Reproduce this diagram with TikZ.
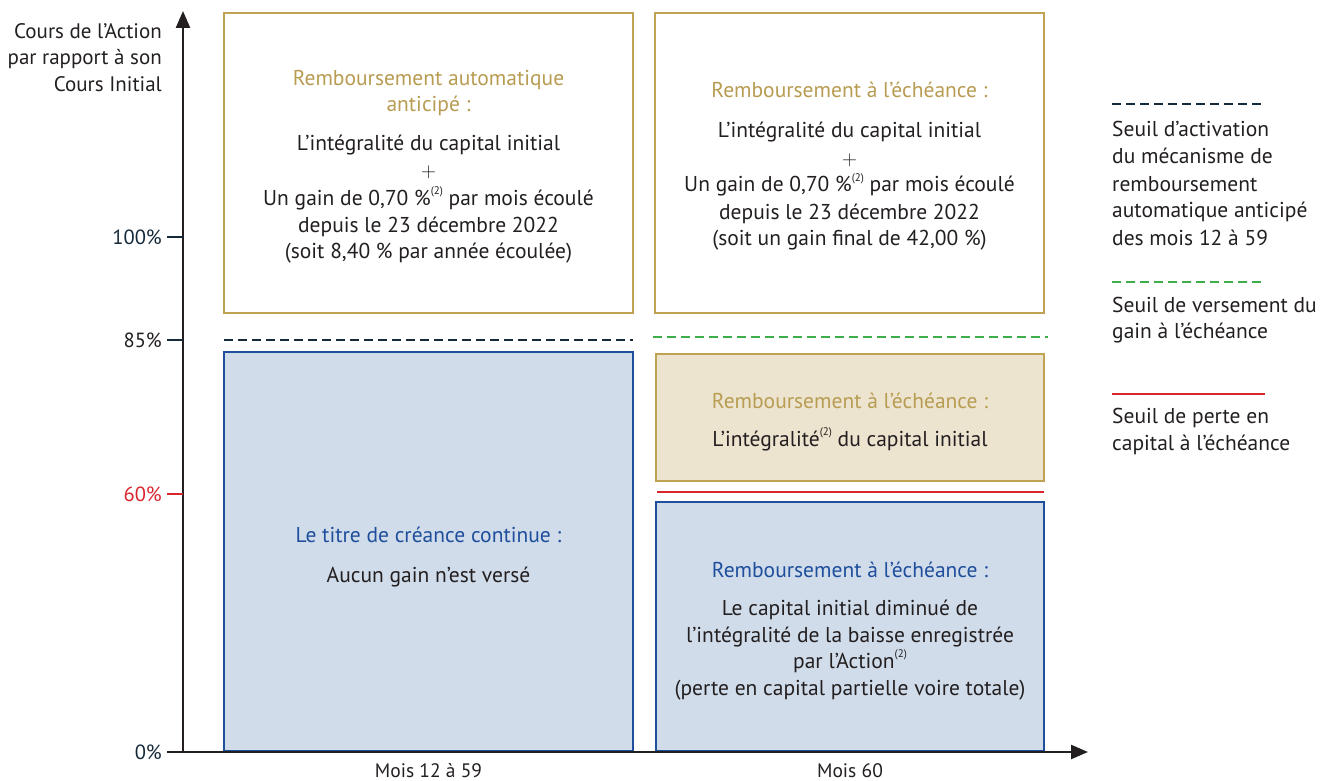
\documentclass[tikz,border=0pt]{standalone}
\usepackage{fontspec}
\setmainfont{PT Sans}
\usetikzlibrary{arrows.meta}
\definecolor{gold}{HTML}{BFA254}
\definecolor{goldtxt}{HTML}{B89C52}
\definecolor{bluebd}{HTML}{1E4E9C}
\definecolor{bluefill}{HTML}{D0DCEA}
\definecolor{beigefill}{HTML}{ECE4CF}
\definecolor{axiscol}{HTML}{231F20}
\definecolor{navy}{HTML}{14293A}
\definecolor{redl}{HTML}{D9262E}
\definecolor{greenl}{HTML}{3DAE4A}
\definecolor{txt}{HTML}{231F20}
\newcommand\supdeux{\raisebox{0.5em}{\fontsize{11}{11}\selectfont(2)}}
\begin{document}
\begin{tikzpicture}[x=1pt,y=-1pt,
  goldbox/.style={draw=gold,line width=2.5pt,fill=white,inner sep=0,rectangle},
  bluebox/.style={draw=bluebd,line width=2.5pt,fill=bluefill,inner sep=0,rectangle},
  beigebox/.style={draw=gold,line width=2.5pt,fill=beigefill,inner sep=0,rectangle},
  ln/.style={anchor=base,inner sep=0,font=\fontsize{21.5}{24}\selectfont,text=txt},
  plusln/.style={anchor=base,inner sep=0,font=\fontsize{20}{20}\selectfont,text=txt,text height=12pt,text depth=0pt},
  gttl/.style={ln,text=goldtxt},
  bttl/.style={ln,text=bluebd},
  lbl/.style={anchor=base east,inner sep=0,font=\fontsize{21}{24}\selectfont,text=txt},
  tlbl/.style={anchor=base east,inner sep=0,font=\fontsize{20.5}{24}\selectfont},
  leg/.style={anchor=base west,inner sep=0,font=\fontsize{21.5}{24}\selectfont,text=txt},
  xl/.style={anchor=base,inner sep=0,font=\fontsize{19.5}{22}\selectfont,text=txt},
  axisline/.style={draw=axiscol,line width=2.5pt,-{Triangle[length=17pt,width=14pt]}},
  tick/.style={line width=2.5pt},
  blackdash/.style={draw=navy,line width=2pt,dash pattern=on 9pt off 5pt},
  greendash/.style={draw=greenl,line width=2pt,dash pattern=on 9pt off 5pt},
  redline/.style={draw=redl,line width=2.2pt}]
\useasboundingbox (0,0) rectangle (1323,781);

% boxes
\node[goldbox,minimum width=409,minimum height=300] (tl) at (428.5,163) {};
\node[goldbox,minimum width=389,minimum height=300] (tr) at (849.5,163) {};
\node[bluebox,minimum width=409,minimum height=399] (lb) at (428.5,551.5) {};
\node[beigebox,minimum width=388,minimum height=127] (bg) at (850,417.5) {};
\node[bluebox,minimum width=388,minimum height=249] (br) at (850,626.5) {};

% axes
\coordinate (xstart) at (167,752);
\coordinate (xend) at (1088,752);
\coordinate (o) at (183,753);
\coordinate (ytop) at (183,11);
\draw[axisline] (xstart) -- (xend);
\draw[axisline] (o) -- (ytop);

% ticks
\coordinate (t100a) at (167,237); \coordinate (t100b) at (183,237);
\coordinate (t85a) at (167,340);  \coordinate (t85b) at (183,340);
\coordinate (t60a) at (167,494);  \coordinate (t60b) at (183,494);
\draw[tick,draw=navy] (t100a) -- (t100b);
\draw[tick,draw=navy] (t85a) -- (t85b);
\draw[tick,draw=redl] (t60a) -- (t60b);

\node[tlbl,text=navy] (l100) at (162,244) {100\%};
\node[tlbl,text=txt] (l85) at (162,347) {85\%};
\node[tlbl,text=redl] (l60) at (162,501) {60\%};
\node[tlbl,text=navy] (l0) at (162,759) {0\%};

\node[lbl] (yl1) at (162,39) {Cours de l’Action};
\node[lbl] (yl2) at (162,65) {par rapport à son};
\node[lbl] (yl3) at (162,92) {Cours Initial};

% thresholds
\coordinate (bd1) at (224,340); \coordinate (bd2) at (633,340);
\coordinate (gd1) at (653,337); \coordinate (gd2) at (1048,337);
\coordinate (rd1) at (657,492); \coordinate (rd2) at (1044,492);
\draw[blackdash] (bd1) -- (bd2);
\draw[greendash] (gd1) -- (gd2);
\draw[redline] (rd1) -- (rd2);

% top-left text
\node[gttl] (tl1) at (428.5,86) {Remboursement automatique};
\node[gttl] (tl2) at (428.5,112) {anticipé :};
\node[ln] (tl3) at (428.5,150) {L’intégralité du capital initial};
\node[plusln] (tl4) at (428.5,178) {$+$};
\node[ln] (tl5) at (428.5,205) {Un gain de 0,70 \%\supdeux{} par mois écoulé};
\node[ln] (tl6) at (428.5,232) {depuis le 23 décembre 2022};
\node[ln] (tl7) at (428.5,258) {(soit 8,40 \% par année écoulée)};

% top-right text
\node[gttl] (tr1) at (849.5,98) {Remboursement à l’échéance :};
\node[ln] (tr2) at (849.5,138) {L’intégralité du capital initial};
\node[plusln] (tr3) at (849.5,165) {$+$};
\node[ln] (tr4) at (849.5,192) {Un gain de 0,70 \%\supdeux{} par mois écoulé};
\node[ln] (tr5) at (849.5,219) {depuis le 23 décembre 2022};
\node[ln] (tr6) at (849.5,245) {(soit un gain final de 42,00 \%)};

% left blue text
\node[bttl] (lb1) at (428.5,542) {Le titre de créance continue :};
\node[ln] (lb2) at (428.5,582) {Aucun gain n’est versé};

% beige text
\node[gttl] (bg1) at (850,408) {Remboursement à l’échéance :};
\node[ln] (bg2) at (850,446) {L’intégralité\supdeux{} du capital initial};

% bottom-right text
\node[bttl] (br1) at (850,577) {Remboursement à l’échéance :};
\node[ln] (br2) at (850,615) {Le capital initial diminué de};
\node[ln] (br3) at (850,642) {l’intégralité de la baisse enregistrée};
\node[ln] (br4) at (850,668) {par l’Action\supdeux};
\node[ln] (br5) at (850,695) {(perte en capital partielle voire totale)};

% x labels
\node[xl] (m1) at (428.5,777) {Mois 12 à 59};
\node[xl] (m2) at (850,777) {Mois 60};

% legend
\coordinate (lk1a) at (1112,104); \coordinate (lk1b) at (1265,104);
\coordinate (lk2a) at (1112,282); \coordinate (lk2b) at (1265,282);
\coordinate (lk3a) at (1112,394); \coordinate (lk3b) at (1265,394);
\draw[blackdash] (lk1a) -- (lk1b);
\draw[greendash] (lk2a) -- (lk2b);
\draw[redline] (lk3a) -- (lk3b);
\node[leg] (lg1) at (1112,137) {Seuil d’activation};
\node[leg] (lg2) at (1112,164) {du mécanisme de};
\node[leg] (lg3) at (1112,191) {remboursement};
\node[leg] (lg4) at (1112,218) {automatique anticipé};
\node[leg] (lg5) at (1112,245) {des mois 12 à 59};
\node[leg] (lg6) at (1112,312) {Seuil de versement du};
\node[leg] (lg7) at (1112,338) {gain à l’échéance};
\node[leg] (lg8) at (1112,423) {Seuil de perte en};
\node[leg] (lg9) at (1112,450) {capital à l’échéance};
\end{tikzpicture}
\end{document}
